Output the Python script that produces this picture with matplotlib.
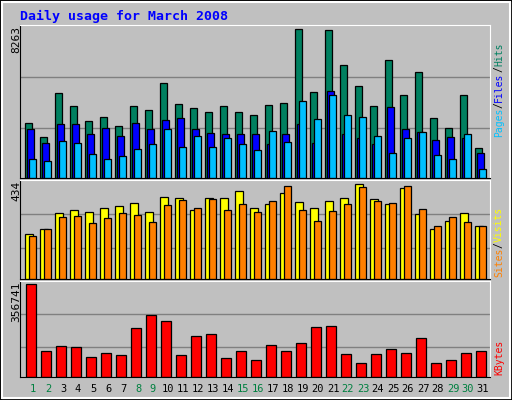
import numpy as np
import matplotlib.pyplot as plt
from matplotlib.patches import Rectangle

days = list(range(1, 32))
weekend = [1, 2, 8, 9, 15, 16, 22, 23, 29, 30]

hits = [3036, 2305, 4722, 3992, 3148, 3373, 2867, 3992, 3767, 5285, 4104, 3879, 3654, 3992, 3654, 3486,
        4048, 4160, 8263, 4779, 8208, 6297, 5116, 3992, 6578, 4610, 5903, 3317, 2755, 4610, 1687]
files = [2699, 1968, 2980, 2980, 2474, 2755, 2361, 3036, 2699, 3205, 3317, 2699, 2530, 2474, 2474, 2474,
         1911, 2474, 2980, 1968, 4835, 2474, 2249, 1911, 3935, 2699, 2586, 2136, 2305, 2249, 1406]
pages = [1068, 956, 2080, 1968, 1349, 1068, 1237, 1630, 1911, 2699, 1743, 2361, 1743, 2249, 1911, 1574,
         2642, 2024, 4273, 3261, 4610, 3486, 3373, 2361, 1406, 2249, 2586, 1293, 1068, 2474, 506]
visits = [208, 231, 302, 316, 307, 325, 335, 349, 307, 377, 373, 316, 373, 373, 401, 325,
          344, 396, 354, 325, 358, 373, 434, 368, 344, 415, 297, 231, 264, 302, 245]
sites = [198, 231, 283, 288, 255, 278, 302, 292, 259, 340, 363, 325, 368, 316, 344, 307,
         358, 424, 316, 264, 311, 344, 420, 358, 349, 424, 321, 241, 283, 259, 241]
kbytes = [356741, 98950, 118480, 114580, 75520, 91140, 83330, 188790, 239570, 216130, 83330, 157540,
          165350, 71610, 98950, 63800, 122390, 98950, 130200, 192700, 196600, 87230, 52080, 87230,
          106760, 91140, 149730, 52080, 63800, 91140, 98950]

W, H = 512, 400
BG = '#c0c0c0'
fig = plt.figure(figsize=(W / 100, H / 100), dpi=100, facecolor=BG)
fig.patches.append(Rectangle((0, 0), 1, 1, transform=fig.transFigure, fill=False,
                             edgecolor='black', lw=2))
fig.patches.append(Rectangle((2 / W, 2 / H), 1 - 4 / W, 1 - 4 / H, transform=fig.transFigure,
                             fill=False, edgecolor='white', lw=1.5))

mono = 'DejaVu Sans Mono'
fig.text(20 / W, 1 - 16 / H, 'Daily usage for March 2008', color='#0000ff', fontsize=9.5,
         fontweight='bold', family=mono, va='center')

x = np.arange(len(days))


def panel(top, bottom):
    ax = fig.add_axes([20 / W, 1 - bottom / H, 470 / W, (bottom - top) / H])
    ax.set_facecolor(BG)
    ax.set_xlim(-0.33, 31)
    ax.set_xticks([])
    ax.set_yticks([])
    for s in ax.spines.values():
        s.set_color('black')
    ax.spines['right'].set_color('white')
    ax.spines['top'].set_color('white')
    return ax


def grid(ax, vmax, fr):
    for f in fr:
        ax.axhline(vmax * f, color='#808080', lw=1, zorder=0)


# top panel
ax1 = panel(25, 178)
m = max(hits)
ax1.set_ylim(0, m * 1.03)
grid(ax1, m, [1 / 3, 0.68])
kw = dict(edgecolor='black', linewidth=0.9, align='edge', zorder=2)
ax1.bar(x, hits, 0.47, color='#008060', **kw)
ax1.bar(x + 0.13, files, 0.47, color='#0000ff', **kw)
ax1.bar(x + 0.27, pages, 0.47, color='#00c0ff', **kw)

# middle panel
ax2 = panel(180, 279)
m = max(visits)
ax2.set_ylim(0, m * 1.045)
grid(ax2, m, [0.326, 0.685])
ax2.bar(x, visits, 0.53, color='#ffff00', **kw)
ax2.bar(x + 0.27, sites, 0.47, color='#ff8000', **kw)

# bottom panel
ax3 = panel(281, 377)
m = max(kbytes)
ax3.set_ylim(0, m * 1.035)
grid(ax3, m, [0.322, 0.683])
ax3.bar(x + 0.1, kbytes, 0.65, color='#ff0000', **kw)

for d in days:
    fig.text((25 + (d - 1) * 15 + 8) / W, 1 - 389 / H, str(d), fontsize=7.5, family=mono,
             ha='center', va='center', color='#008040' if d in weekend else 'black')

# left max labels
fig.text(16 / W, 1 - 26 / H, str(max(hits)), rotation=90, fontsize=8, family=mono, ha='center', va='top')
fig.text(16 / W, 1 - 181 / H, str(max(visits)), rotation=90, fontsize=8, family=mono, ha='center', va='top')
fig.text(16 / W, 1 - 282 / H, str(max(kbytes)), rotation=90, fontsize=8, family=mono, ha='center', va='top')


def right_label(parts, ybot):
    y = ybot
    for txt, col in parts:
        fig.text(499 / W, 1 - y / H, txt, rotation=90, fontsize=7, family=mono,
                 color=col, ha='center', va='bottom')
        y -= len(txt) * 5.9


right_label([('Pages', '#00c0ff'), ('/', '#000000'), ('Files', '#0000ff'),
             ('/', '#000000'), ('Hits', '#008060')], 137)
right_label([('Sites', '#ff8000'), ('/', '#000000'), ('Visits', '#ffff00')], 277)
right_label([('KBytes', '#ff0000')], 375)

fig.savefig('out.png', dpi=100, facecolor=BG)
